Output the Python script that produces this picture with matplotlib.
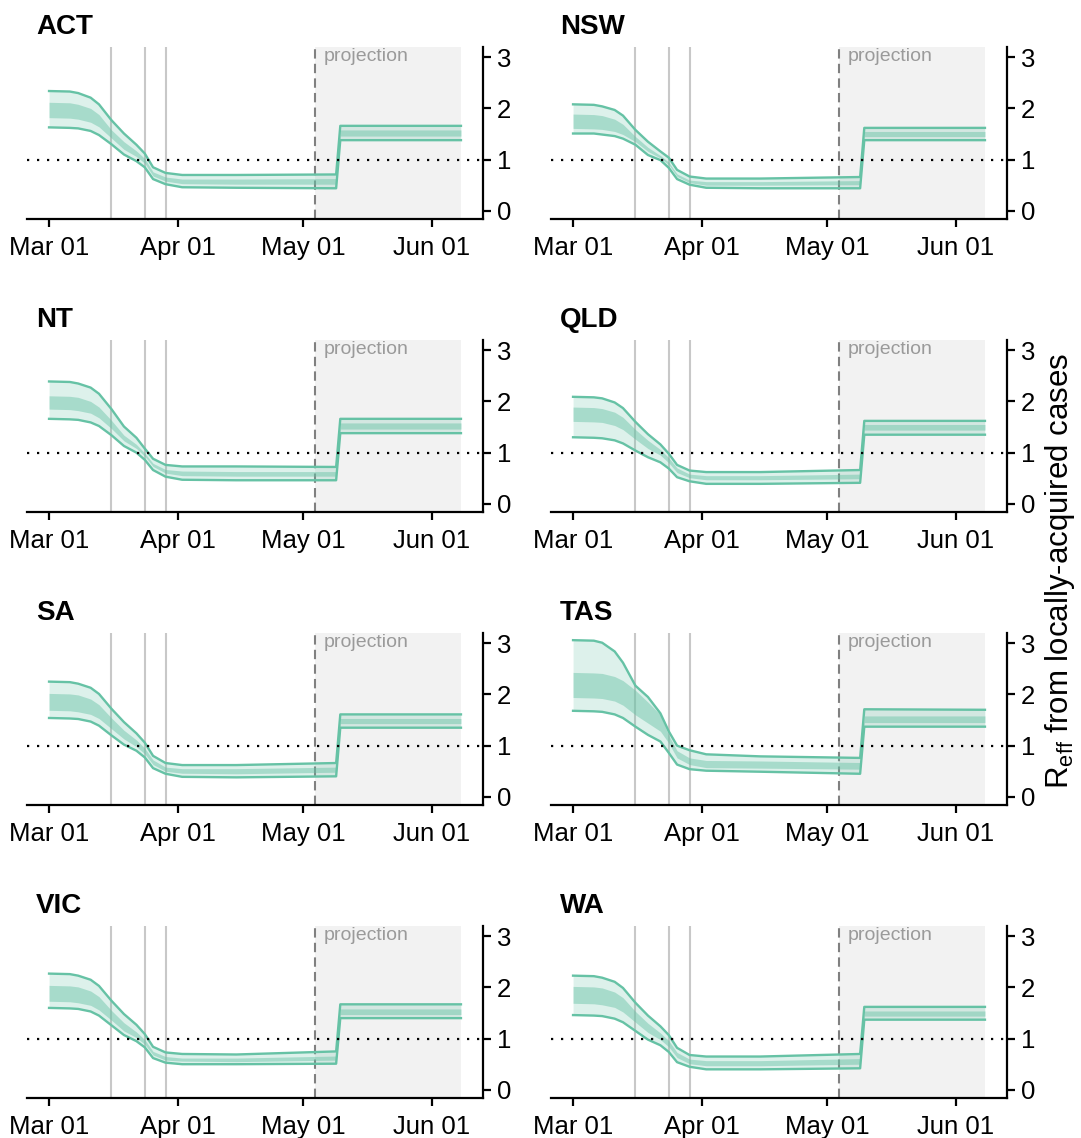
import numpy as np
import matplotlib
matplotlib.use('Agg')
import matplotlib.pyplot as plt
import matplotlib.dates as mdates
import matplotlib.transforms as mtransforms

plt.rcParams['font.family'] = ['Liberation Sans', 'DejaVu Sans']

# ---------------- data ----------------
regions = ['ACT', 'NSW', 'NT', 'QLD', 'SA', 'TAS', 'VIC', 'WA']
start_date = '2020-03-01'
day_offsets = [0, 5, 7, 10, 12, 15, 18, 21, 23, 25, 28, 32, 45, 69, 70, 99]
intervention_dates = ['2020-03-16', '2020-03-24', '2020-03-29']
projection_start = '2020-05-04'
projection_end = '2020-06-08'
tick_dates = ['2020-03-01', '2020-04-01', '2020-05-01', '2020-06-01']
y_ticks = [0, 1, 2, 3]

ACT_hi95 = [2.34, 2.33, 2.30, 2.21, 2.08, 1.77, 1.51, 1.29, 1.12, 0.85, 0.74, 0.70, 0.70, 0.71, 1.66, 1.66]
ACT_hi50 = [2.12, 2.11, 2.08, 2.00, 1.88, 1.58, 1.35, 1.17, 1.02, 0.76, 0.66, 0.62, 0.62, 0.63, 1.58, 1.58]
ACT_lo50 = [1.82, 1.81, 1.79, 1.73, 1.64, 1.42, 1.20, 1.06, 0.93, 0.68, 0.58, 0.53, 0.52, 0.52, 1.46, 1.46]
ACT_lo95 = [1.63, 1.62, 1.61, 1.56, 1.48, 1.30, 1.10, 0.97, 0.85, 0.62, 0.52, 0.46, 0.45, 0.44, 1.38, 1.38]

NSW_hi95 = [2.08, 2.07, 2.04, 1.97, 1.86, 1.58, 1.35, 1.16, 1.04, 0.80, 0.67, 0.63, 0.63, 0.66, 1.62, 1.62]
NSW_hi50 = [1.89, 1.88, 1.86, 1.79, 1.69, 1.45, 1.24, 1.08, 0.95, 0.72, 0.60, 0.57, 0.57, 0.59, 1.55, 1.55]
NSW_lo50 = [1.61, 1.60, 1.59, 1.55, 1.49, 1.35, 1.16, 1.03, 0.90, 0.67, 0.55, 0.50, 0.50, 0.51, 1.45, 1.45]
NSW_lo95 = [1.51, 1.51, 1.49, 1.46, 1.41, 1.29, 1.09, 0.99, 0.84, 0.62, 0.51, 0.45, 0.44, 0.44, 1.38, 1.38]

NT_hi95 = [2.39, 2.38, 2.35, 2.27, 2.15, 1.85, 1.51, 1.29, 1.08, 0.88, 0.76, 0.73, 0.73, 0.72, 1.66, 1.66]
NT_hi50 = [2.11, 2.10, 2.08, 2.00, 1.89, 1.63, 1.34, 1.16, 0.99, 0.79, 0.67, 0.64, 0.63, 0.63, 1.58, 1.58]
NT_lo50 = [1.85, 1.84, 1.82, 1.77, 1.68, 1.47, 1.23, 1.08, 0.93, 0.73, 0.60, 0.55, 0.54, 0.54, 1.46, 1.46]
NT_lo95 = [1.66, 1.65, 1.64, 1.59, 1.52, 1.34, 1.13, 1.00, 0.86, 0.66, 0.53, 0.47, 0.46, 0.46, 1.38, 1.38]

QLD_hi95 = [2.09, 2.08, 2.06, 1.98, 1.87, 1.60, 1.36, 1.16, 0.98, 0.76, 0.65, 0.62, 0.62, 0.66, 1.62, 1.62]
QLD_hi50 = [1.89, 1.88, 1.86, 1.79, 1.69, 1.45, 1.24, 1.06, 0.90, 0.70, 0.58, 0.55, 0.55, 0.58, 1.55, 1.55]
QLD_lo50 = [1.61, 1.60, 1.59, 1.53, 1.45, 1.26, 1.08, 0.95, 0.80, 0.61, 0.51, 0.47, 0.47, 0.49, 1.44, 1.44]
QLD_lo95 = [1.30, 1.29, 1.28, 1.24, 1.18, 1.04, 0.91, 0.81, 0.69, 0.52, 0.44, 0.39, 0.39, 0.41, 1.35, 1.35]

SA_hi95 = [2.25, 2.24, 2.21, 2.13, 2.01, 1.72, 1.46, 1.24, 1.06, 0.80, 0.66, 0.62, 0.62, 0.66, 1.61, 1.61]
SA_hi50 = [2.02, 2.01, 1.99, 1.91, 1.80, 1.54, 1.30, 1.11, 0.95, 0.72, 0.58, 0.55, 0.55, 0.58, 1.53, 1.53]
SA_lo50 = [1.69, 1.68, 1.66, 1.61, 1.53, 1.33, 1.13, 0.98, 0.84, 0.63, 0.50, 0.46, 0.45, 0.48, 1.43, 1.43]
SA_lo95 = [1.54, 1.53, 1.52, 1.47, 1.39, 1.20, 1.02, 0.90, 0.77, 0.56, 0.45, 0.39, 0.38, 0.40, 1.35, 1.35]

TAS_hi95 = [3.06, 3.05, 3.01, 2.84, 2.62, 2.17, 1.95, 1.63, 1.28, 1.00, 0.91, 0.83, 0.79, 0.76, 1.71, 1.70]
TAS_hi50 = [2.43, 2.42, 2.41, 2.35, 2.27, 2.08, 1.85, 1.60, 1.20, 0.90, 0.76, 0.71, 0.70, 0.67, 1.58, 1.58]
TAS_lo50 = [1.94, 1.93, 1.92, 1.87, 1.79, 1.60, 1.44, 1.28, 1.05, 0.76, 0.63, 0.57, 0.56, 0.54, 1.45, 1.45]
TAS_lo95 = [1.68, 1.67, 1.66, 1.61, 1.54, 1.37, 1.21, 1.08, 0.86, 0.63, 0.54, 0.51, 0.49, 0.45, 1.37, 1.37]

VIC_hi95 = [2.27, 2.26, 2.23, 2.15, 2.03, 1.74, 1.48, 1.27, 1.09, 0.84, 0.73, 0.70, 0.69, 0.75, 1.67, 1.67]
VIC_hi50 = [2.04, 2.03, 2.01, 1.93, 1.82, 1.55, 1.31, 1.13, 0.98, 0.75, 0.65, 0.62, 0.62, 0.66, 1.58, 1.58]
VIC_lo50 = [1.73, 1.72, 1.70, 1.65, 1.56, 1.36, 1.15, 1.02, 0.89, 0.68, 0.58, 0.56, 0.55, 0.58, 1.47, 1.47]
VIC_lo95 = [1.60, 1.59, 1.58, 1.53, 1.45, 1.26, 1.07, 0.95, 0.83, 0.62, 0.53, 0.50, 0.50, 0.51, 1.40, 1.40]

WA_hi95 = [2.23, 2.22, 2.19, 2.11, 1.99, 1.70, 1.45, 1.24, 1.07, 0.82, 0.68, 0.65, 0.65, 0.70, 1.62, 1.62]
WA_hi50 = [2.02, 2.01, 1.99, 1.91, 1.80, 1.53, 1.30, 1.11, 0.96, 0.73, 0.60, 0.57, 0.57, 0.61, 1.54, 1.54]
WA_lo50 = [1.69, 1.68, 1.66, 1.61, 1.52, 1.32, 1.12, 0.98, 0.84, 0.63, 0.51, 0.47, 0.47, 0.50, 1.44, 1.44]
WA_lo95 = [1.46, 1.45, 1.44, 1.39, 1.32, 1.15, 0.98, 0.87, 0.74, 0.54, 0.45, 0.40, 0.40, 0.42, 1.37, 1.37]

bands = {
    'ACT': (ACT_lo95, ACT_lo50, ACT_hi50, ACT_hi95),
    'NSW': (NSW_lo95, NSW_lo50, NSW_hi50, NSW_hi95),
    'NT': (NT_lo95, NT_lo50, NT_hi50, NT_hi95),
    'QLD': (QLD_lo95, QLD_lo50, QLD_hi50, QLD_hi95),
    'SA': (SA_lo95, SA_lo50, SA_hi50, SA_hi95),
    'TAS': (TAS_lo95, TAS_lo50, TAS_hi50, TAS_hi95),
    'VIC': (VIC_lo95, VIC_lo50, VIC_hi50, VIC_hi95),
    'WA': (WA_lo95, WA_lo50, WA_hi50, WA_hi95),
}

# ---------------- plotting ----------------
d0 = np.datetime64(start_date)
dates = d0 + np.array(day_offsets).astype('timedelta64[D]')
d0_num = mdates.date2num(d0)
proj_s = mdates.date2num(np.datetime64(projection_start))
proj_e = mdates.date2num(np.datetime64(projection_end))

W, H = 1081, 1138
fig = plt.figure(figsize=(W / 100, H / 100), dpi=100)
col_left = [27, 551]
row_top = [47, 340, 633, 926]
ax_w, ax_h = 456, 172
teal = '#66c2a5'

for i, reg in enumerate(regions):
    r, c = divmod(i, 2)
    ax = fig.add_axes([col_left[c] / W, 1 - (row_top[r] + ax_h) / H, ax_w / W, ax_h / H])
    lo95, lo50, hi50, hi95 = bands[reg]

    ax.axvspan(proj_s, proj_e, color='#f2f2f2', lw=0, zorder=0)
    for d in intervention_dates:
        ax.axvline(mdates.date2num(np.datetime64(d)), color='#c8c8c8', lw=1.5, zorder=1)
    ax.axvline(proj_s, color='#808080', lw=1.5, ls=(0, (4.5, 2.5)), zorder=1)

    ax.fill_between(dates, lo95, hi95, color=teal, alpha=0.22, lw=0, zorder=2)
    ax.fill_between(dates, lo50, hi50, color=teal, alpha=0.45, lw=0, zorder=2)
    ax.plot(dates, lo95, color=teal, lw=1.7, zorder=2.5)
    ax.plot(dates, hi95, color=teal, lw=1.7, zorder=2.5)

    ax.axhline(1, color='black', lw=1.6, ls=(0, (1, 3.5)), zorder=3)

    ax.set_xlim(d0_num - 5.3, d0_num + 104.3)
    ax.set_ylim(-0.16, 3.2)
    ax.set_yticks(y_ticks)
    ax.set_xticks([mdates.date2num(np.datetime64(t)) for t in tick_dates])
    ax.xaxis.set_major_formatter(mdates.DateFormatter('%b %d'))
    ax.yaxis.tick_right()
    for s in ['left', 'top']:
        ax.spines[s].set_visible(False)
    for s in ['right', 'bottom']:
        ax.spines[s].set_linewidth(1.6)
    ax.tick_params(axis='both', labelsize=18.5, width=1.6, length=6, direction='out')
    ax.tick_params(axis='x', pad=6)
    ax.tick_params(axis='y', pad=4)

    ax.text(9 / ax_w, 1 + 20 / ax_h, reg, transform=ax.transAxes, fontsize=20,
            fontweight='bold', va='center', ha='left')
    trans = mtransforms.blended_transform_factory(ax.transData, ax.transAxes)
    ax.text(proj_s + 1.9, 0.995, 'projection', transform=trans, color='#9a9a9a',
            fontsize=14, va='top', ha='left')

fig.text(1060 / W, 1 - 571 / H, r'R$_\mathregular{eff}$ from locally-acquired cases',
         rotation=90, va='center', ha='center', fontsize=22.5)

fig.savefig('out.png', dpi=100)
